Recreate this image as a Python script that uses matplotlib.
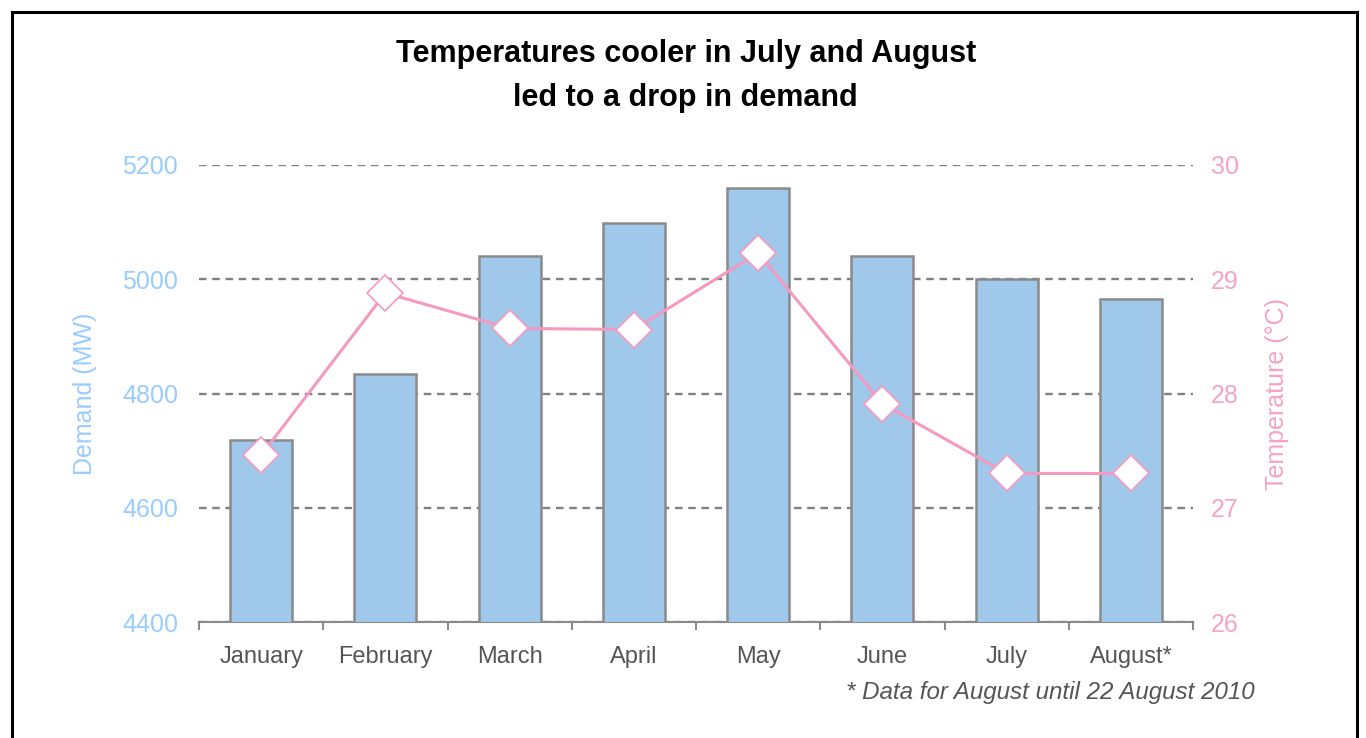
import numpy as np
import matplotlib
matplotlib.use("Agg")
import matplotlib.pyplot as plt
import matplotlib.patches as mpatches

# data
months = ['January', 'February', 'March', 'April', 'May', 'June', 'July', 'August*']
demand_mw = [4718, 4835, 5040, 5098, 5160, 5040, 5000, 4966]
temperature_c = [27.46, 28.88, 28.57, 28.56, 29.23, 27.91, 27.30, 27.30]
demand_ticks = [4400, 4600, 4800, 5000, 5200]
temp_ticks = [26, 27, 28, 29, 30]

narrow = ['Liberation Sans Narrow', 'Liberation Sans', 'DejaVu Sans']
plain = ['Liberation Sans', 'DejaVu Sans']

bar_color = '#9fc8ea'
bar_edge = '#8a8a8a'
pink = '#f49ac1'
blue_txt = '#99ccff'
pink_txt = '#f5a3c7'
grey_txt = '#555555'

fig = plt.figure(figsize=(13.66, 7.38), dpi=100)
ax = fig.add_axes([199 / 1366, 1 - 622 / 738, (1193 - 199) / 1366, (622 - 165) / 738])

x = np.arange(len(months))
ax.bar(x, demand_mw, width=0.5, color=bar_color, edgecolor=bar_edge, linewidth=1.8, zorder=3)
ax.set_xlim(-0.5, len(months) - 0.5)
ax.set_ylim(demand_ticks[0], demand_ticks[-1])
ax.set_yticks(demand_ticks)
ax.set_yticklabels([str(v) for v in demand_ticks], family=narrow, fontsize=18, color=blue_txt)
ax.yaxis.grid(True, linestyle=(0, (3.2, 2.4)), color='#808080', linewidth=1.7)
ax.set_axisbelow(True)

ax.set_xticks(x)
ax.set_xticklabels(months, family=narrow, fontsize=17, color=grey_txt)
ax.set_xticks(np.arange(-0.5, len(months)), minor=True)
ax.tick_params(axis='x', which='major', length=0, pad=17.5)
ax.tick_params(axis='x', which='minor', length=6, width=1.5, color='#8a8a8a')
ax.tick_params(axis='y', length=0, pad=15)
ax.set_ylabel('Demand (MW)', family=narrow, fontsize=18, color=blue_txt, labelpad=18)

for side in ['top', 'left', 'right']:
    ax.spines[side].set_visible(False)
ax.spines['bottom'].set_color('#8a8a8a')
ax.spines['bottom'].set_linewidth(1.5)

ax2 = ax.twinx()
ax2.plot(x, temperature_c, color=pink, linewidth=2.2, marker='D', markersize=18,
         markerfacecolor='white', markeredgecolor=pink, markeredgewidth=1.2, zorder=4)
ax2.set_ylim(temp_ticks[0], temp_ticks[-1])
ax2.set_yticks(temp_ticks)
ax2.set_yticklabels([str(v) for v in temp_ticks], family=narrow, fontsize=18, color=pink_txt)
ax2.tick_params(axis='y', length=0, pad=13)
ax2.set_ylabel('Temperature (°C)', family=narrow, fontsize=18, color=pink_txt, labelpad=19)
for side in ['top', 'left', 'right', 'bottom']:
    ax2.spines[side].set_visible(False)

fig.text(0.502, 1 - 76 / 738, 'Temperatures cooler in July and August\nled to a drop in demand',
         ha='center', va='center', family=plain, fontsize=22, fontweight='bold',
         linespacing=1.57, color='black')

fig.text(1255 / 1366, 1 - 693 / 738, '* Data for August until 22 August 2010',
         ha='right', va='center', family=plain, fontsize=17.4, style='italic', color=grey_txt)

# outer frame
frame = mpatches.Rectangle((12 / 1366, -0.1), (1357 - 12) / 1366, 1.1 - 12 / 738,
                           transform=fig.transFigure, fill=False, edgecolor='black',
                           linewidth=2.2)
fig.patches.append(frame)

fig.savefig('out.png', dpi=100)
